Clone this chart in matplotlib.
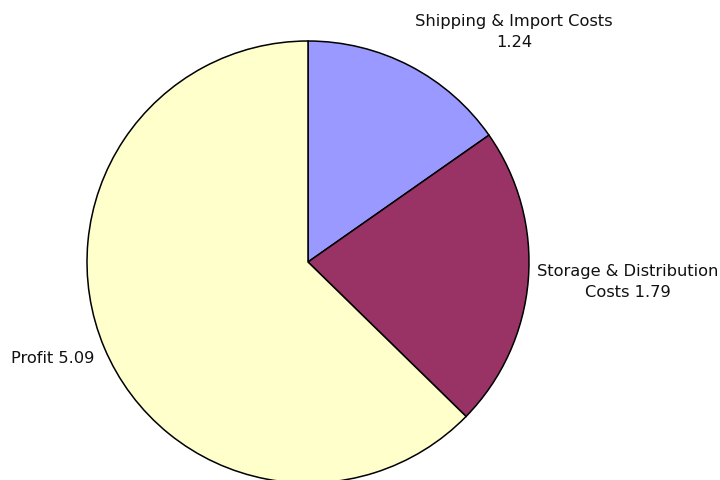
import matplotlib
matplotlib.use('Agg')
import matplotlib.pyplot as plt

plt.rcParams['font.family'] = ['DejaVu Sans']

# cost breakdown
categories = ['Shipping & Import Costs', 'Storage & Distribution Costs', 'Profit']
values = [1.24, 1.79, 5.09]
colors = ['#9999FF', '#993366', '#FFFFCC']

# label text as it wraps on the chart, and where it sits (pixel coords)
label_text = [
    'Shipping & Import Costs\n1.24',
    'Storage & Distribution\nCosts 1.79',
    'Profit 5.09',
]
label_pos = [(514, 449), (628, 199), (53, 122)]

fig = plt.figure(figsize=(7.2, 4.81), dpi=100)
ax = fig.add_axes([0, 0, 1, 1])

ax.pie(values, colors=colors, startangle=90, counterclock=False,
       center=(308, 218), radius=221, frame=True,
       wedgeprops={'edgecolor': 'black', 'linewidth': 1.1})
ax.set_xlim(0, 720)
ax.set_ylim(0, 481)
ax.set_aspect('equal')
ax.axis('off')

for txt, (x, y) in zip(label_text, label_pos):
    ax.text(x, y, txt, ha='center', va='center', fontsize=11.7,
            color='#111111', linespacing=1.55)

fig.savefig('out.png', dpi=100)
